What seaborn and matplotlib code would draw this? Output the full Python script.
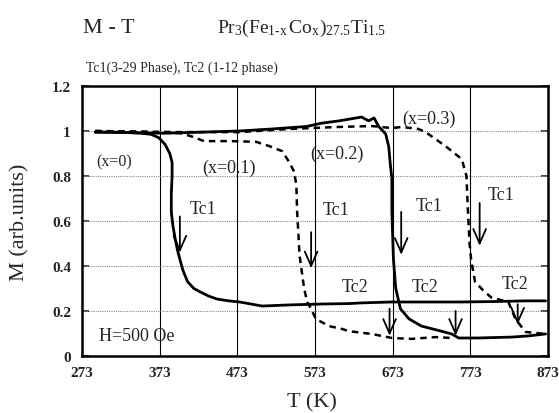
import numpy as np
import pandas as pd
import matplotlib
matplotlib.use("Agg")
import matplotlib.pyplot as plt
import seaborn as sns

# M-T curves (T in K, M in arb. units)
T_x0 = [290, 320, 350, 362, 372, 380, 386, 389, 389, 388, 388, 390, 393, 396, 399, 403,
        409, 417, 425, 437, 447, 462, 476, 505, 540, 582, 617, 633, 672, 719, 761, 805, 845, 870]
M_x0 = [0.995, 0.995, 0.99, 0.985, 0.97, 0.94, 0.90, 0.86, 0.80, 0.72, 0.64, 0.58, 0.52, 0.47,
        0.43, 0.38, 0.33, 0.30, 0.285, 0.265, 0.253, 0.245, 0.24, 0.222, 0.227, 0.231, 0.233,
        0.236, 0.24, 0.24, 0.24, 0.242, 0.245, 0.245]

T_x01 = [290, 360, 400, 415, 430, 463, 497, 514, 531, 540, 546, 549, 550, 552, 553, 555, 559,
         563, 568, 574, 591, 608, 617, 646, 672, 697, 728, 750]
M_x01 = [1.0, 0.995, 0.99, 0.975, 0.955, 0.955, 0.952, 0.933, 0.91, 0.86, 0.82, 0.76, 0.64,
         0.52, 0.45, 0.40, 0.30, 0.24, 0.21, 0.165, 0.133, 0.12, 0.11, 0.098, 0.08, 0.076,
         0.084, 0.08]

T_x02 = [290, 380, 476, 518, 562, 582, 604, 633, 642, 649, 655, 664, 668, 670, 672, 672, 674,
         677, 683, 694, 710, 736, 749, 758, 783, 826, 847, 870]
M_x02 = [0.995, 0.99, 1.0, 1.009, 1.02, 1.035, 1.045, 1.062, 1.045, 1.058, 1.02, 0.987, 0.93,
         0.85, 0.79, 0.64, 0.43, 0.30, 0.21, 0.165, 0.133, 0.11, 0.098, 0.08, 0.08, 0.084,
         0.089, 0.098]

T_x03 = [290, 400, 476, 540, 604, 646, 672, 685, 706, 715, 741, 762, 768, 770, 772, 774, 779,
         790, 800, 822, 831, 844, 870]
M_x03 = [1.0, 0.995, 0.995, 1.009, 1.018, 1.022, 1.013, 1.018, 1.009, 0.996, 0.933, 0.875,
         0.80, 0.64, 0.50, 0.43, 0.33, 0.29, 0.26, 0.24, 0.165, 0.107, 0.098]

x_ticks = [273, 373, 473, 573, 673, 773, 873]
y_ticks = [0, 0.2, 0.4, 0.6, 0.8, 1.0, 1.2]
y_tick_labels = ["0", "0.2", "0.4", "0.6", "0.8", "1", "1.2"]

# curve labels and Tc markers
curve_labels = ["(x=0)", "(x=0.1)", "(x=0.2)", "(x=0.3)"]
curve_label_T = [315, 462, 601, 720]
curve_label_M = [0.867, 0.84, 0.902, 1.056]

tc1_T = [429, 600, 720, 813]
tc1_M = [0.656, 0.65, 0.67, 0.718]
tc2_T = [624, 715, 831]
tc2_M = [0.309, 0.309, 0.324]

arrow_T = [399, 568, 684, 785, 669, 754, 834]
arrow_top = [0.62, 0.55, 0.64, 0.68, 0.21, 0.20, 0.23]
arrow_bottom = [0.46, 0.39, 0.45, 0.49, 0.09, 0.09, 0.14]

curves = pd.concat([
    pd.DataFrame({"T": T_x0, "M": M_x0, "x": "0"}),
    pd.DataFrame({"T": T_x01, "M": M_x01, "x": "0.1"}),
    pd.DataFrame({"T": T_x02, "M": M_x02, "x": "0.2"}),
    pd.DataFrame({"T": T_x03, "M": M_x03, "x": "0.3"}),
])

sns.set_theme(style="white")
plt.rcParams["font.family"] = ["Liberation Serif", "DejaVu Serif"]
plt.rcParams["mathtext.fontset"] = "custom"
plt.rcParams["mathtext.rm"] = "Liberation Serif"
plt.rcParams["mathtext.it"] = "Liberation Serif:italic"

fig = plt.figure(figsize=(5.59, 4.14), dpi=100)
ax = fig.add_axes([0.1467, 0.1377, 0.8336, 0.6522])

# grid first so the curves sit on top
for t in x_ticks[1:-1]:
    ax.axvline(t, color="black", lw=0.8, zorder=1)
for m in y_ticks[1:-1]:
    ax.axhline(m, color="#888888", lw=0.8, ls=(0, (1, 1)), zorder=1)

for name, grp in curves.groupby("x"):
    dashed = name in ("0.1", "0.3")
    sns.lineplot(data=grp, x="T", y="M", sort=False, estimator=None, ax=ax,
                 color="black", lw=1.8 if dashed else 2.0,
                 dashes=False, zorder=3,
                 linestyle=(0, (2.6, 2.0)) if dashed else "-")

for lab, t, m in zip(curve_labels, curve_label_T, curve_label_M):
    ax.text(t, m, lab, ha="center", va="center",
            fontsize=11.5 if lab == "(x=0)" else 13, zorder=4)
for t, m in zip(tc1_T, tc1_M):
    ax.text(t, m, "Tc1", ha="center", va="center", fontsize=13, zorder=4)
for t, m in zip(tc2_T, tc2_M):
    ax.text(t, m, "Tc2", ha="center", va="center", fontsize=13, zorder=4)
ax.text(344, 0.093, "H=500 Oe", ha="center", va="center", fontsize=13, zorder=4)

for t, top, bot in zip(arrow_T, arrow_top, arrow_bottom):
    ax.annotate("", xy=(t, bot), xytext=(t, top),
                arrowprops=dict(arrowstyle="->,head_length=0.8,head_width=0.35",
                                lw=1.3, color="black", mutation_scale=13,
                                shrinkA=0, shrinkB=0), zorder=5)

ax.set_xlim(273, 873)
ax.set_ylim(0, 1.2)
ax.set_xticks(x_ticks)
ax.set_xticklabels([str(t) for t in x_ticks], fontweight="bold", fontsize=11)
ax.set_yticks(y_ticks)
ax.set_yticklabels(y_tick_labels, fontweight="bold", fontsize=11)
ax.tick_params(axis="y", direction="in", length=5, width=1.2, left=True, right=True, pad=8)
ax.tick_params(axis="x", direction="in", length=0, pad=7)
ax.set_xlabel("")
ax.set_ylabel("")
for sp in ax.spines.values():
    sp.set_color("black")
    sp.set_linewidth(1.8)

fig.text(0.036, 0.464, "M (arb.units)", rotation=90, ha="center", va="center", fontsize=16)
fig.text(0.558, 0.027, "T (K)", ha="center", va="center", fontsize=16)
fig.text(0.148, 0.920, "M - T", ha="left", va="baseline", fontsize=16)
fig.text(0.388, 0.920, r"$\mathrm{Pr_3(Fe_{1\text{-}x}\,Co_x)_{27.5}Ti_{1.5}}$",
         ha="left", va="baseline", fontsize=14)
fig.text(0.154, 0.826, "Tc1(3-29 Phase), Tc2 (1-12 phase)", ha="left", va="baseline",
         fontsize=10)

fig.savefig("out.png", dpi=100)
